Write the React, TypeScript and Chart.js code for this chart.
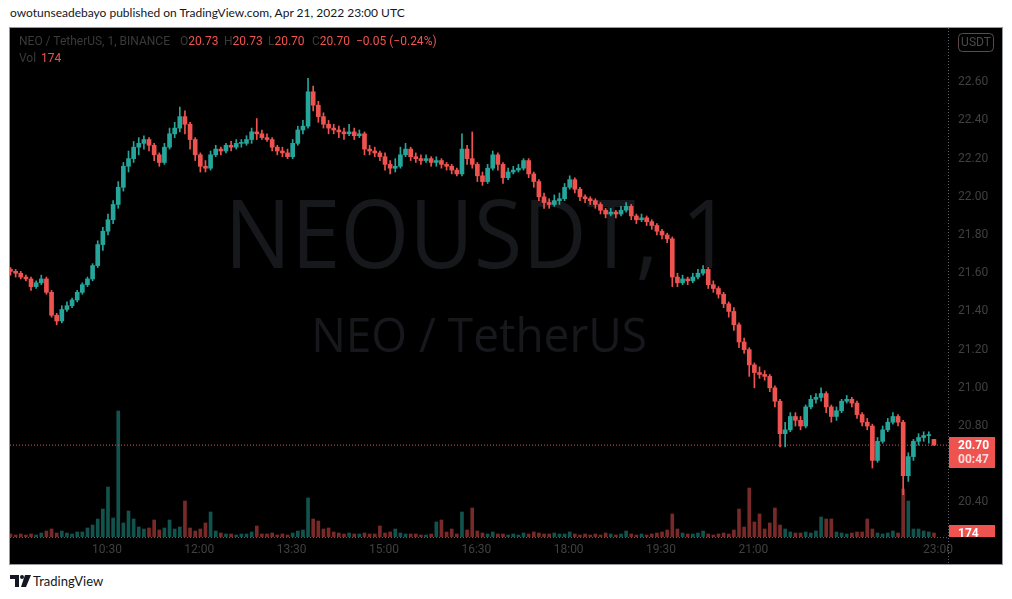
import React, { useEffect, useRef } from 'react';
import { Chart, registerables } from 'chart.js';

Chart.register(...registerables);

// ---- data (5-minute buckets) ----
const OPENS = [
  21.62, 21.61, 21.60, 21.58, 21.57, 21.53, 21.55, 21.57, 21.50, 21.38,
  21.35, 21.41, 21.43, 21.46, 21.50, 21.54, 21.57, 21.64, 21.75, 21.82,
  21.88, 21.96, 22.05, 22.16, 22.20, 22.26, 22.28, 22.30, 22.27, 22.22,
  22.18, 22.26, 22.33, 22.36, 22.42, 22.38, 22.30, 22.22, 22.16, 22.15,
  22.22, 22.25, 22.24, 22.27, 22.26, 22.28, 22.28, 22.30, 22.34, 22.33,
  22.31, 22.30, 22.26, 22.24, 22.23, 22.21, 22.28, 22.35, 22.37, 22.55,
  22.48, 22.42, 22.38, 22.36, 22.35, 22.34, 22.33, 22.34, 22.32, 22.33,
  22.25, 22.24, 22.23, 22.21, 22.17, 22.15, 22.16, 22.22, 22.25, 22.21,
  22.20, 22.19, 22.20, 22.18, 22.19, 22.17, 22.16, 22.14, 22.12, 22.25,
  22.20, 22.17, 22.11, 22.08, 22.15, 22.22, 22.17, 22.10, 22.13, 22.14,
  22.15, 22.19, 22.12, 22.08, 22.00, 21.97, 21.96, 21.98, 21.99, 22.05,
  22.09, 22.04, 22.00, 21.99, 21.98, 21.96, 21.93, 21.91, 21.92, 21.91,
  21.93, 21.95, 21.90, 21.88, 21.89, 21.87, 21.85, 21.82, 21.80, 21.78,
  21.58, 21.55, 21.57, 21.56, 21.58, 21.60, 21.62, 21.54, 21.52, 21.49,
  21.44, 21.40, 21.33, 21.24, 21.20, 21.12, 21.08, 21.07, 21.06, 21.00,
  20.93, 20.76, 20.78, 20.85, 20.83, 20.80, 20.90, 20.94, 20.95, 20.97,
  20.90, 20.85, 20.88, 20.93, 20.94, 20.92, 20.86, 20.82, 20.80, 20.62,
  20.72, 20.78, 20.82, 20.85, 20.82, 20.54, 20.64, 20.72, 20.74, 20.75,
  20.73,
];
const CLOSES = [
  21.61, 21.60, 21.58, 21.57, 21.53, 21.55, 21.57, 21.50, 21.38, 21.35,
  21.41, 21.43, 21.46, 21.50, 21.54, 21.57, 21.64, 21.75, 21.82, 21.88,
  21.96, 22.05, 22.16, 22.20, 22.26, 22.28, 22.30, 22.27, 22.22, 22.18,
  22.26, 22.33, 22.36, 22.42, 22.38, 22.30, 22.22, 22.16, 22.15, 22.22,
  22.25, 22.24, 22.27, 22.26, 22.28, 22.28, 22.30, 22.34, 22.33, 22.31,
  22.30, 22.26, 22.24, 22.23, 22.21, 22.28, 22.35, 22.37, 22.55, 22.48,
  22.42, 22.38, 22.36, 22.35, 22.34, 22.33, 22.34, 22.32, 22.33, 22.25,
  22.24, 22.23, 22.21, 22.17, 22.15, 22.16, 22.22, 22.25, 22.21, 22.20,
  22.19, 22.20, 22.18, 22.19, 22.17, 22.16, 22.14, 22.12, 22.25, 22.20,
  22.17, 22.11, 22.08, 22.15, 22.22, 22.17, 22.10, 22.13, 22.14, 22.15,
  22.19, 22.12, 22.08, 22.00, 21.97, 21.96, 21.98, 21.99, 22.05, 22.09,
  22.04, 22.00, 21.99, 21.98, 21.96, 21.93, 21.91, 21.92, 21.91, 21.93,
  21.95, 21.90, 21.88, 21.89, 21.87, 21.85, 21.82, 21.80, 21.78, 21.58,
  21.55, 21.57, 21.56, 21.58, 21.60, 21.62, 21.54, 21.52, 21.49, 21.44,
  21.40, 21.33, 21.24, 21.20, 21.12, 21.08, 21.07, 21.06, 21.00, 20.93,
  20.76, 20.78, 20.85, 20.83, 20.80, 20.90, 20.94, 20.95, 20.97, 20.90,
  20.85, 20.88, 20.93, 20.94, 20.92, 20.86, 20.82, 20.80, 20.62, 20.72,
  20.78, 20.82, 20.85, 20.82, 20.54, 20.64, 20.72, 20.74, 20.75, 20.75,
  20.70,
];
const HIGHS = [
  21.63, 21.62, 21.61, 21.59, 21.58, 21.56, 21.59, 21.58, 21.51, 21.39,
  21.43, 21.45, 21.47, 21.51, 21.55, 21.58, 21.65, 21.77, 21.84, 21.91,
  21.98, 22.08, 22.18, 22.24, 22.29, 22.31, 22.32, 22.31, 22.28, 22.23,
  22.28, 22.36, 22.39, 22.47, 22.45, 22.39, 22.31, 22.23, 22.19, 22.24,
  22.27, 22.26, 22.28, 22.29, 22.30, 22.30, 22.32, 22.36, 22.41, 22.35,
  22.33, 22.31, 22.27, 22.26, 22.25, 22.30, 22.37, 22.40, 22.62, 22.58,
  22.50, 22.44, 22.40, 22.38, 22.37, 22.36, 22.38, 22.36, 22.35, 22.34,
  22.27, 22.26, 22.24, 22.23, 22.19, 22.20, 22.26, 22.28, 22.26, 22.23,
  22.22, 22.22, 22.21, 22.21, 22.20, 22.18, 22.17, 22.15, 22.33, 22.27,
  22.34, 22.18, 22.13, 22.17, 22.24, 22.23, 22.18, 22.15, 22.16, 22.17,
  22.20, 22.20, 22.13, 22.09, 22.02, 21.99, 22.01, 22.02, 22.07, 22.11,
  22.10, 22.05, 22.01, 22.00, 21.99, 21.97, 21.94, 21.94, 21.93, 21.95,
  21.97, 21.96, 21.91, 21.91, 21.90, 21.88, 21.86, 21.83, 21.81, 21.79,
  21.60, 21.59, 21.58, 21.60, 21.62, 21.64, 21.63, 21.56, 21.53, 21.50,
  21.45, 21.42, 21.34, 21.26, 21.21, 21.13, 21.11, 21.09, 21.07, 21.01,
  20.94, 20.82, 20.87, 20.87, 20.85, 20.91, 20.96, 20.97, 21.00, 20.98,
  20.91, 20.90, 20.94, 20.96, 20.95, 20.93, 20.87, 20.84, 20.81, 20.74,
  20.80, 20.84, 20.87, 20.86, 20.83, 20.66, 20.73, 20.76, 20.77, 20.77,
  20.73,
];
const LOWS = [
  21.59, 21.58, 21.57, 21.56, 21.51, 21.52, 21.54, 21.49, 21.37, 21.33,
  21.34, 21.40, 21.42, 21.45, 21.49, 21.53, 21.56, 21.63, 21.72, 21.80,
  21.86, 21.94, 22.03, 22.13, 22.18, 22.22, 22.25, 22.24, 22.19, 22.16,
  22.17, 22.25, 22.31, 22.34, 22.33, 22.25, 22.19, 22.13, 22.13, 22.14,
  22.21, 22.22, 22.23, 22.24, 22.25, 22.26, 22.27, 22.28, 22.30, 22.30,
  22.29, 22.24, 22.22, 22.21, 22.20, 22.20, 22.27, 22.33, 22.36, 22.45,
  22.39, 22.36, 22.33, 22.33, 22.31, 22.30, 22.32, 22.30, 22.31, 22.22,
  22.22, 22.21, 22.19, 22.14, 22.12, 22.13, 22.15, 22.21, 22.19, 22.18,
  22.17, 22.18, 22.16, 22.16, 22.15, 22.14, 22.12, 22.11, 22.11, 22.17,
  22.15, 22.08, 22.06, 22.07, 22.14, 22.14, 22.07, 22.09, 22.12, 22.13,
  22.14, 22.10, 22.05, 21.98, 21.94, 21.94, 21.95, 21.96, 21.98, 22.04,
  22.02, 21.98, 21.97, 21.96, 21.94, 21.91, 21.89, 21.90, 21.89, 21.90,
  21.92, 21.88, 21.86, 21.87, 21.85, 21.83, 21.80, 21.78, 21.76, 21.53,
  21.53, 21.54, 21.54, 21.55, 21.57, 21.59, 21.52, 21.50, 21.47, 21.42,
  21.37, 21.30, 21.21, 21.18, 21.06, 21.00, 21.05, 21.04, 20.98, 20.90,
  20.69, 20.69, 20.77, 20.80, 20.78, 20.79, 20.89, 20.92, 20.93, 20.87,
  20.82, 20.83, 20.87, 20.92, 20.90, 20.84, 20.80, 20.78, 20.58, 20.61,
  20.71, 20.77, 20.81, 20.80, 20.44, 20.51, 20.62, 20.70, 20.72, 20.71,
  20.70,
];
const VOLUMES = [
  131, 87, 131, 87, 131, 87, 174, 261, 348, 174,
  261, 174, 131, 218, 218, 392, 522, 783, 1218, 2175,
  827, 5481, 609, 1131, 783, 435, 348, 392, 740, 305,
  392, 740, 348, 435, 1566, 392, 261, 348, 609, 1088,
  261, 174, 131, 131, 87, 131, 131, 218, 479, 131,
  131, 174, 87, 131, 87, 174, 261, 305, 1697, 783,
  696, 348, 392, 218, 174, 131, 174, 131, 131, 174,
  131, 131, 479, 174, 218, 348, 174, 131, 131, 131,
  87, 87, 131, 653, 740, 218, 348, 131, 1088, 305,
  1262, 261, 174, 131, 218, 131, 131, 87, 131, 87,
  174, 131, 218, 174, 131, 131, 174, 131, 131, 218,
  131, 87, 131, 87, 131, 87, 174, 131, 87, 131,
  261, 131, 87, 131, 87, 131, 174, 218, 305, 1001,
  348, 174, 131, 131, 174, 261, 131, 87, 131, 174,
  131, 305, 1218, 435, 2132, 653, 1001, 348, 609, 1262,
  522, 348, 218, 174, 174, 218, 174, 261, 870, 783,
  783, 218, 174, 131, 174, 218, 218, 783, 348, 174,
  131, 174, 261, 174, 2088, 1566, 348, 348, 261, 218,
  174,
];
// bar time = minutes after 09:00
const FIRST_BAR_MINUTE = -4;
const BAR_MINUTES = 5;
const TIME_TICK_MINUTES = [90, 180, 270, 360, 450, 540, 630, 720, 900];
const TIME_TICK_LABELS = ['10:30', '12:00', '13:30', '15:00', '16:30', '18:00', '19:30', '21:00', '23:00'];
const PRICE_TICKS = [20.4, 20.6, 20.8, 21.0, 21.2, 21.4, 21.6, 21.8, 22.0, 22.2, 22.4, 22.6];
const X_MIN = -4.5;
const X_MAX = 909.7;
const Y_MIN = 20.219;
const Y_MAX = 22.884;
const VOL_MAX = 22140;
const COUNTDOWN = '00:47';
const SYMBOL = 'NEO / TetherUS, 1, BINANCE';
const WATERMARK_1 = 'NEOUSDT, 1';
const WATERMARK_2 = 'NEO / TetherUS';

const UP = '#26a69a';
const DOWN = '#ef5350';
const UP_VOL = 'rgba(38,166,154,0.5)';
const DOWN_VOL = 'rgba(239,83,80,0.5)';
const AXIS_TEXT = '#404040';
const SEP = '#5d606b';
const WM = '#17181c';
const FONT = 'Roboto, "Open Sans", sans-serif';

const LAST = CLOSES.length - 1;
const fmt = (v: number) => v.toFixed(2);
const signed = (v: number) => (v < 0 ? '\u2212' : '+') + Math.abs(v).toFixed(2);

function drawFit(ctx: CanvasRenderingContext2D, text: string, left: number, right: number, baseline: number, size: number) {
  ctx.font = `${size}px "Open Sans"`;
  ctx.textAlign = 'left';
  ctx.textBaseline = 'alphabetic';
  const m = ctx.measureText(text);
  const ink = m.actualBoundingBoxLeft + m.actualBoundingBoxRight;
  ctx.save();
  ctx.translate(left, baseline);
  ctx.scale((right - left) / ink, 1);
  ctx.fillText(text, m.actualBoundingBoxLeft, 0);
  ctx.restore();
}

const decor = {
  id: 'decor',
  beforeDatasetsDraw(chart: any) {
    const { ctx, chartArea } = chart;
    ctx.save();
    ctx.beginPath();
    ctx.rect(chartArea.left, chartArea.top, chartArea.right - chartArea.left, chartArea.bottom - chartArea.top);
    ctx.clip();
    ctx.fillStyle = WM;
    drawFit(ctx, WATERMARK_1, 223, 703, 240, 95);
    drawFit(ctx, WATERMARK_2, 305, 635, 324, 47.5);
    ctx.restore();
  },
  afterDraw(chart: any) {
    const { ctx, chartArea, scales } = chart;
    const r = chartArea.right;
    ctx.save();
    // separators
    ctx.strokeStyle = SEP;
    ctx.lineWidth = 1;
    ctx.setLineDash([1, 2]);
    ctx.beginPath();
    ctx.moveTo(r + 0.5, 0);
    ctx.lineTo(r + 0.5, chart.height);
    ctx.stroke();
    ctx.beginPath();
    ctx.moveTo(0, chartArea.bottom + 0.5);
    ctx.lineTo(r, chartArea.bottom + 0.5);
    ctx.stroke();
    ctx.setLineDash([]);
    // currency box
    ctx.strokeStyle = '#5e4a4c';
    ctx.beginPath();
    (ctx as any).roundRect(r + 10.5, 5.5, 35, 18, 4);
    ctx.stroke();
    ctx.fillStyle = '#4a4a4a';
    ctx.font = `12px ${FONT}`;
    ctx.textAlign = 'center';
    ctx.textBaseline = 'middle';
    ctx.fillText('USDT', r + 28, 15);
    // last price label
    const py = Math.round(scales.y.getPixelForValue(CLOSES[LAST]));
    ctx.fillStyle = DOWN;
    ctx.fillRect(r + 1, py - 8, 46, 31);
    ctx.textAlign = 'left';
    ctx.fillStyle = '#ffffff';
    ctx.font = `bold 12px ${FONT}`;
    ctx.fillText(fmt(CLOSES[LAST]), r + 10, py + 1);
    ctx.fillStyle = 'rgba(255,255,255,0.78)';
    ctx.fillText(COUNTDOWN, r + 10, py + 15);
    // last volume label (clipped by time axis)
    ctx.save();
    ctx.beginPath();
    ctx.rect(r, 0, 60, chartArea.bottom);
    ctx.clip();
    const vy = Math.round(scales.yv.getPixelForValue(VOLUMES[LAST]));
    ctx.fillStyle = DOWN;
    ctx.fillRect(r + 1, vy - 8, 46, 17);
    ctx.fillStyle = '#ffffff';
    ctx.font = `bold 12px ${FONT}`;
    ctx.fillText(String(VOLUMES[LAST]), r + 10, vy + 1);
    ctx.restore();
    ctx.restore();
  },
};

export default function App() {
  const ref = useRef<HTMLCanvasElement>(null);

  useEffect(() => {
    const canvas = ref.current;
    if (!canvas) return;
    const times = CLOSES.map((_, i) => FIRST_BAR_MINUTE + i * BAR_MINUTES);
    const isUp = CLOSES.map((c, i) => c >= OPENS[i]);
    const colors = isUp.map((u) => (u ? UP : DOWN));
    const volColors = isUp.map((u) => (u ? UP_VOL : DOWN_VOL));

    const chart = new Chart(canvas, {
      type: 'bar',
      data: {
        datasets: [
          {
            type: 'bar',
            label: 'body',
            data: times.map((t, i) => ({ x: t, y: [OPENS[i], CLOSES[i]] })) as any,
            backgroundColor: colors,
            barThickness: 4,
            minBarLength: 1,
            grouped: false,
            yAxisID: 'y',
            order: 0,
          } as any,
          {
            type: 'bar',
            label: 'wick',
            data: times.map((t, i) => ({ x: t, y: [LOWS[i], HIGHS[i]] })) as any,
            backgroundColor: colors,
            barThickness: 1,
            grouped: false,
            yAxisID: 'y',
            order: 1,
          } as any,
          {
            type: 'line',
            label: 'last',
            data: [
              { x: X_MIN, y: CLOSES[LAST] },
              { x: X_MAX, y: CLOSES[LAST] },
            ],
            borderColor: DOWN,
            borderWidth: 1,
            borderDash: [1, 2],
            pointRadius: 0,
            yAxisID: 'y',
            order: 2,
          } as any,
          {
            type: 'bar',
            label: 'volume',
            data: times.map((t, i) => ({ x: t, y: VOLUMES[i] })) as any,
            backgroundColor: volColors,
            barThickness: 3,
            grouped: false,
            yAxisID: 'yv',
            order: 3,
          } as any,
        ],
      },
      options: {
        animation: false,
        responsive: false,
        devicePixelRatio: 1,
        events: [],
        layout: { padding: 0 },
        plugins: { legend: { display: false }, tooltip: { enabled: false } },
        scales: {
          x: {
            type: 'linear',
            min: X_MIN,
            max: X_MAX,
            offset: false,
            grid: { display: false, drawTicks: false },
            border: { display: false },
            afterBuildTicks: (s: any) => {
              s.ticks = TIME_TICK_MINUTES.map((v) => ({ value: v }));
            },
            afterFit: (s: any) => {
              s.height = 27;
              s.paddingLeft = 0;
              s.paddingRight = 0;
              s.paddingTop = 0;
              s.paddingBottom = 0;
            },
            ticks: {
              autoSkip: false,
              maxRotation: 0,
              minRotation: 0,
              padding: 6,
              color: AXIS_TEXT,
              font: { family: FONT, size: 12 },
              callback: (v: any) => {
                const i = TIME_TICK_MINUTES.indexOf(Number(v));
                return i >= 0 ? TIME_TICK_LABELS[i] : '';
              },
            },
          },
          y: {
            type: 'linear',
            position: 'right',
            min: Y_MIN,
            max: Y_MAX,
            grid: { display: false, drawTicks: false },
            border: { display: false },
            afterBuildTicks: (s: any) => {
              s.ticks = PRICE_TICKS.map((v) => ({ value: v }));
            },
            afterFit: (s: any) => {
              s.width = 54;
              s.paddingLeft = 0;
              s.paddingRight = 0;
              s.paddingTop = 0;
              s.paddingBottom = 0;
            },
            ticks: {
              padding: 10,
              color: AXIS_TEXT,
              font: { family: FONT, size: 12 },
              callback: (v: any) => Number(v).toFixed(2),
            },
          },
          yv: {
            type: 'linear',
            display: false,
            min: 0,
            max: VOL_MAX,
          },
        },
      } as any,
      plugins: [decor],
    });
    return () => chart.destroy();
  }, []);

  const o = OPENS[LAST];
  const h = HIGHS[LAST];
  const l = LOWS[LAST];
  const c = CLOSES[LAST];
  const chg = c - CLOSES[LAST - 1];
  const pct = (chg / CLOSES[LAST - 1]) * 100;
  const gray = '#3a3a3a';
  const legendStyle: React.CSSProperties = {
    position: 'absolute',
    fontFamily: FONT,
    fontSize: 12,
    lineHeight: '16px',
    whiteSpace: 'nowrap',
  };

  return (
    <div
      style={{
        position: 'fixed',
        left: 0,
        top: 0,
        width: 1012,
        height: 599,
        background: '#ffffff',
        overflow: 'hidden',
      }}
    >
      <div
        style={{
          position: 'absolute',
          left: 10,
          top: 5,
          fontFamily: 'Lato, sans-serif',
          fontSize: 12,
          lineHeight: '16px',
          color: '#131722',
          whiteSpace: 'nowrap',
        }}
      >
        owotunseadebayo published on TradingView.com, Apr 21, 2022 23:00 UTC
      </div>
      <div
        style={{
          position: 'absolute',
          left: 9,
          top: 27,
          width: 992,
          height: 536,
          border: '1px solid #9598a1',
          background: '#000000',
        }}
      >
        <canvas
          ref={ref}
          width={992}
          height={536}
          style={{ position: 'absolute', left: 0, top: 0, width: 992, height: 536 }}
        />
        <span style={{ ...legendStyle, left: 9, top: 5, color: gray }}>{SYMBOL}</span>
        <span style={{ ...legendStyle, left: 170, top: 5, color: gray }}>
          O<span style={{ color: DOWN }}>{fmt(o)}</span>
        </span>
        <span style={{ ...legendStyle, left: 214, top: 5, color: gray }}>
          H<span style={{ color: DOWN }}>{fmt(h)}</span>
        </span>
        <span style={{ ...legendStyle, left: 258, top: 5, color: gray }}>
          L<span style={{ color: DOWN }}>{fmt(l)}</span>
        </span>
        <span style={{ ...legendStyle, left: 302, top: 5, color: gray }}>
          C<span style={{ color: DOWN }}>{fmt(c)}</span>
        </span>
        <span style={{ ...legendStyle, left: 346, top: 5, color: DOWN }}>
          {signed(chg)} ({signed(pct)}%)
        </span>
        <span style={{ ...legendStyle, left: 9, top: 22, color: gray }}>Vol</span>
        <span style={{ ...legendStyle, left: 31, top: 22, color: DOWN }}>{VOLUMES[LAST]}</span>
      </div>
      <svg
        width={21}
        height={12}
        viewBox="0 0 21 12"
        style={{ position: 'absolute', left: 10, top: 575 }}
      >
        <path d="M0 0H9V12H5V4H0Z" fill="#131722" />
        <circle cx={12} cy={2} r={2} fill="#131722" />
        <path d="M15 0H21L16 12H11Z" fill="#131722" />
      </svg>
      <div
        style={{
          position: 'absolute',
          left: 33,
          top: 572,
          fontFamily: 'Lato, sans-serif',
          fontSize: 13,
          lineHeight: '18px',
          color: '#131722',
          whiteSpace: 'nowrap',
        }}
      >
        TradingView
      </div>
    </div>
  );
}
